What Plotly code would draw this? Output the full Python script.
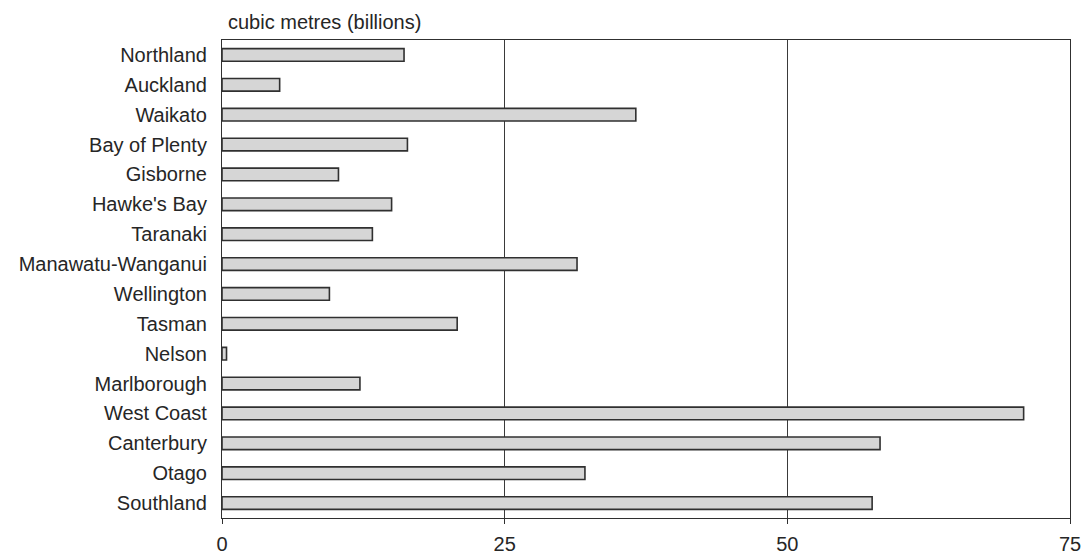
import plotly.graph_objects as go

# Regions, listed top to bottom
regions = [
    "Northland", "Auckland", "Waikato", "Bay of Plenty", "Gisborne",
    "Hawke's Bay", "Taranaki", "Manawatu-Wanganui", "Wellington", "Tasman",
    "Nelson", "Marlborough", "West Coast", "Canterbury", "Otago", "Southland",
]
# Volume, cubic metres (billions)
volumes = [
    16.1, 5.1, 36.6, 16.4, 10.3,
    15.0, 13.3, 31.4, 9.5, 20.8,
    0.4, 12.2, 70.9, 58.2, 32.1, 57.5,
]
x_ticks = [0, 25, 50, 75]

FONT = "Liberation Sans, Arial, sans-serif"
INK = "#262626"

fig = go.Figure(
    go.Bar(
        x=volumes,
        y=regions,
        orientation="h",
        marker=dict(color="#d6d6d6", line=dict(color="#303030", width=1.6)),
        width=0.42,
        hoverinfo="x+y",
    )
)

fig.update_layout(
    width=1086,
    height=555,
    margin=dict(l=222, r=16, t=40, b=37),
    paper_bgcolor="white",
    plot_bgcolor="white",
    showlegend=False,
    font=dict(family=FONT, size=20, color=INK),
    annotations=[
        dict(
            text="cubic metres (billions)",
            xref="paper", yref="paper",
            x=0.005, y=1.0, xanchor="left", yanchor="bottom",
            yshift=5,
            showarrow=False,
            font=dict(family=FONT, size=20, color=INK),
        )
    ],
)

fig.update_xaxes(
    range=[0, 75],
    tickvals=x_ticks,
    ticktext=[str(v) for v in x_ticks],
    automargin=False,
    showgrid=True,
    gridcolor="#3a3a3a",
    gridwidth=1,
    zeroline=False,
    showline=True,
    linecolor="#303030",
    linewidth=1.2,
    mirror=True,
    ticks="outside",
    ticklen=5,
    tickcolor="#303030",
    ticklabelstandoff=3,
    tickfont=dict(family=FONT, size=20, color=INK),
)

fig.update_yaxes(
    categoryorder="array",
    categoryarray=regions,
    autorange="reversed",
    automargin=False,
    showgrid=False,
    zeroline=False,
    showline=True,
    linecolor="#303030",
    linewidth=1.2,
    mirror=True,
    ticks="",
    ticklabelstandoff=10,
    tickfont=dict(family=FONT, size=20, color=INK),
)

fig.write_html("out.html")
